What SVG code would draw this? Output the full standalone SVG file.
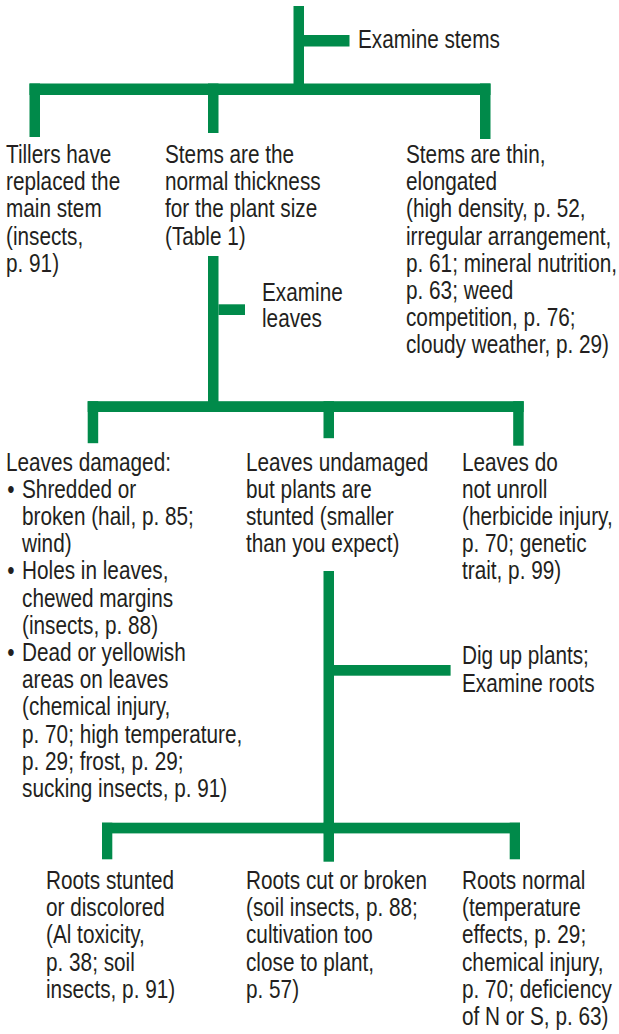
<svg xmlns="http://www.w3.org/2000/svg" width="619" height="1034" viewBox="0 0 619 1034">
<style>
.c{fill:#008A4A}
text{font-family:"Liberation Sans",Arial,sans-serif;font-size:25px;fill:#231F20}
</style>
<rect width="619" height="1034" fill="#ffffff"/>
<g id="connectors">
<rect class="c" x="293.5" y="6" width="10.5" height="89"/>
<rect class="c" x="304" y="35" width="45.5" height="11.5"/>
<rect class="c" x="29.5" y="83.5" width="461" height="11.5"/>
<rect class="c" x="29.5" y="83.5" width="10.5" height="53.5"/>
<rect class="c" x="208" y="83.5" width="10.5" height="49.5"/>
<rect class="c" x="480" y="83.5" width="10.5" height="55.5"/>
<rect class="c" x="208" y="256" width="10.5" height="155.7"/>
<rect class="c" x="218.5" y="304.3" width="26.5" height="10.7"/>
<rect class="c" x="87.7" y="401.2" width="436" height="10.8"/>
<rect class="c" x="87.7" y="401.2" width="10.5" height="42"/>
<rect class="c" x="323.5" y="401.2" width="10.5" height="37"/>
<rect class="c" x="513.2" y="401.2" width="10.5" height="44.5"/>
<rect class="c" x="323.5" y="571" width="10.5" height="262.3"/>
<rect class="c" x="334" y="665" width="116.6" height="10.7"/>
<rect class="c" x="102" y="822.7" width="418" height="10.7"/>
<rect class="c" x="102" y="822.7" width="10.3" height="36.6"/>
<rect class="c" x="323.5" y="822.7" width="10.5" height="39"/>
<rect class="c" x="509.7" y="822.7" width="10.3" height="36.6"/>
</g>
<g id="examine-stems" transform="translate(358 0) scale(0.83 1)">
<text x="0" y="48.5">Examine stems</text>
</g>
<g id="tillers" transform="translate(6 0) scale(0.83 1)">
<text><tspan x="0" y="163">Tillers have</tspan><tspan x="0" y="190.2">replaced the</tspan><tspan x="0" y="217.4">main stem</tspan><tspan x="0" y="244.6">(insects,</tspan><tspan x="0" y="271.8">p. 91)</tspan></text>
</g>
<g id="stems-normal" transform="translate(165 0) scale(0.83 1)">
<text><tspan x="0" y="163">Stems are the</tspan><tspan x="0" y="190.2">normal thickness</tspan><tspan x="0" y="217.4">for the plant size</tspan><tspan x="0" y="244.6">(Table 1)</tspan></text>
</g>
<g id="stems-thin" transform="translate(406 0) scale(0.83 1)">
<text><tspan x="0" y="163">Stems are thin,</tspan><tspan x="0" y="190.2">elongated</tspan><tspan x="0" y="217.4">(high density, p. 52,</tspan><tspan x="0" y="244.6">irregular arrangement,</tspan><tspan x="0" y="271.8">p. 61; mineral nutrition,</tspan><tspan x="0" y="299">p. 63; weed</tspan><tspan x="0" y="326.2">competition, p. 76;</tspan><tspan x="0" y="353.4">cloudy weather, p. 29)</tspan></text>
</g>
<g id="examine-leaves" transform="translate(262 0) scale(0.83 1)">
<text><tspan x="0" y="300.7">Examine</tspan><tspan x="0" y="327.5">leaves</tspan></text>
</g>
<g id="leaves-damaged" transform="translate(6 0) scale(0.83 1)">
<text><tspan x="0" y="470.7">Leaves damaged:</tspan><tspan x="1.5" y="497.9">•</tspan><tspan x="19.3" y="497.9">Shredded or</tspan><tspan x="19.3" y="525.1">broken (hail, p. 85;</tspan><tspan x="19.3" y="552.3">wind)</tspan><tspan x="1.5" y="579.5">•</tspan><tspan x="19.3" y="579.5">Holes in leaves,</tspan><tspan x="19.3" y="606.7">chewed margins</tspan><tspan x="19.3" y="633.9">(insects, p. 88)</tspan><tspan x="1.5" y="661.1">•</tspan><tspan x="19.3" y="661.1">Dead or yellowish</tspan><tspan x="19.3" y="688.3">areas on leaves</tspan><tspan x="19.3" y="715.5">(chemical injury,</tspan><tspan x="19.3" y="742.7">p. 70; high temperature,</tspan><tspan x="19.3" y="769.9">p. 29; frost, p. 29;</tspan><tspan x="19.3" y="797.1">sucking insects, p. 91)</tspan></text>
</g>
<g id="leaves-undamaged" transform="translate(246 0) scale(0.83 1)">
<text><tspan x="0" y="470.7">Leaves undamaged</tspan><tspan x="0" y="497.9">but plants are</tspan><tspan x="0" y="525.1">stunted (smaller</tspan><tspan x="0" y="552.3">than you expect)</tspan></text>
</g>
<g id="leaves-unroll" transform="translate(462 0) scale(0.83 1)">
<text><tspan x="0" y="470.7">Leaves do</tspan><tspan x="0" y="497.9">not unroll</tspan><tspan x="0" y="525.1">(herbicide injury,</tspan><tspan x="0" y="552.3">p. 70; genetic</tspan><tspan x="0" y="579.5">trait, p. 99)</tspan></text>
</g>
<g id="dig-roots" transform="translate(462 0) scale(0.83 1)">
<text><tspan x="0" y="664.5">Dig up plants;</tspan><tspan x="0" y="692">Examine roots</tspan></text>
</g>
<g id="roots-stunted" transform="translate(46 0) scale(0.83 1)">
<text><tspan x="0" y="889">Roots stunted</tspan><tspan x="0" y="916.2">or discolored</tspan><tspan x="0" y="943.4">(Al toxicity,</tspan><tspan x="0" y="970.6">p. 38; soil</tspan><tspan x="0" y="997.8">insects, p. 91)</tspan></text>
</g>
<g id="roots-cut" transform="translate(246 0) scale(0.83 1)">
<text><tspan x="0" y="889">Roots cut or broken</tspan><tspan x="0" y="916.2">(soil insects, p. 88;</tspan><tspan x="0" y="943.4">cultivation too</tspan><tspan x="0" y="970.6">close to plant,</tspan><tspan x="0" y="997.8">p. 57)</tspan></text>
</g>
<g id="roots-normal" transform="translate(462 0) scale(0.83 1)">
<text><tspan x="0" y="889">Roots normal</tspan><tspan x="0" y="916.2">(temperature</tspan><tspan x="0" y="943.4">effects, p. 29;</tspan><tspan x="0" y="970.6">chemical injury,</tspan><tspan x="0" y="997.8">p. 70; deficiency</tspan><tspan x="0" y="1025">of N or S, p. 63)</tspan></text>
</g>
</svg>
